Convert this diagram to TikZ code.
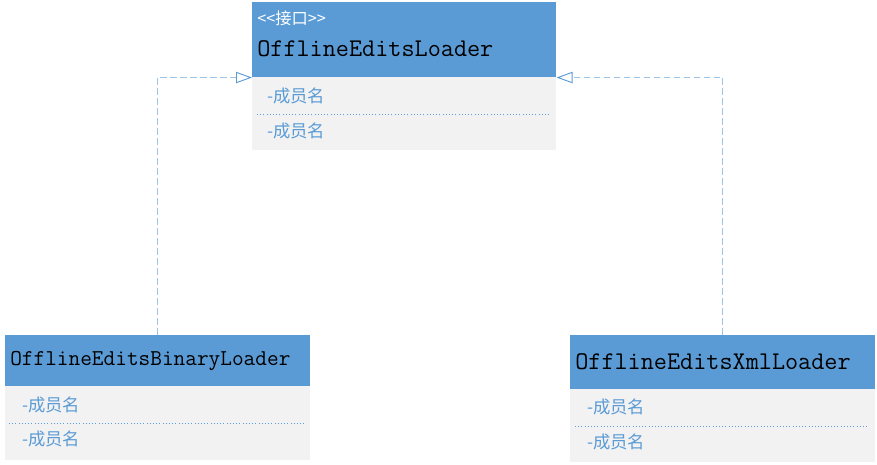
\documentclass[tikz,border=0pt]{standalone}
\usepackage{fontspec}
\setmonofont{Latin Modern Mono}
\newfontfamily\cjk{Noto Sans CJK SC}
\usetikzlibrary{arrows.meta}

\definecolor{umlhead}{RGB}{91,155,213}
\definecolor{umlbody}{RGB}{242,242,242}
\definecolor{umlline}{RGB}{157,195,230}

\tikzset{
  headbox/.style={draw=none,fill=umlhead,anchor=north west,inner sep=0pt},
  bodybox/.style={draw=none,fill=umlbody,anchor=north west,inner sep=0pt},
  member/.style={anchor=west,inner sep=0.75pt,text=umlhead,font=\cjk\fontsize{13}{15}\selectfont},
  classname/.style={anchor=west,inner sep=0.75pt,font=\ttfamily},
  sep/.style={umlhead,line width=0.4pt,dotted},
  realize/.style={umlline,line width=0.9pt,dash pattern=on 5pt off 2.5pt,
    -{Triangle[open,length=12pt,width=8.5pt,fill=white,umlhead,line width=0.7pt]}}
}

\begin{document}
\begin{tikzpicture}[x=0.75pt,y=0.75pt,yscale=-1,xscale=1]
\useasboundingbox (0,0) rectangle (877,464);

%Interface: OfflineEditsLoader
\node [headbox,minimum width=228pt,minimum height=56.25pt] (ifhead) at (252,2) {};
\node [bodybox,minimum width=228pt,minimum height=54.75pt] (ifbody) at (252,77) {};
\coordinate (ifsepl) at (257,114);
\coordinate (ifsepr) at (551,114);
\draw [sep] (ifsepl) -- (ifsepr);

%Class: OfflineEditsBinaryLoader
\node [headbox,minimum width=228.75pt,minimum height=38.25pt] (binhead) at (5,335) {};
\node [bodybox,minimum width=228.75pt,minimum height=55.5pt] (binbody) at (5,386) {};
\coordinate (binsepl) at (9,423);
\coordinate (binsepr) at (305,423);
\draw [sep] (binsepl) -- (binsepr);

%Class: OfflineEditsXmlLoader
\node [headbox,minimum width=228.75pt,minimum height=40.5pt] (xmlhead) at (570,335) {};
\node [bodybox,minimum width=228.75pt,minimum height=54.75pt] (xmlbody) at (570,389) {};
\coordinate (xmlsepl) at (575,426);
\coordinate (xmlsepr) at (869,426);
\draw [sep] (xmlsepl) -- (xmlsepr);

%Realization
\draw [realize] (binhead.north) |- (ifhead.south west);
\draw [realize] (xmlhead.north) |- (ifhead.south east);

% Text Node
\node [anchor=west,inner sep=0.75pt,text=white,font=\cjk\fontsize{12.2}{14}\selectfont] (ifstereo) at (256,18) {<<接口>>};
% Text Node
\node [classname,font=\ttfamily\fontsize{19.1}{21}\selectfont] (ifname) at (256,49) {OfflineEditsLoader};
% Text Node
\node [member] (ifmema) at (266,96) {-成员名};
% Text Node
\node [member] (ifmemb) at (266,131) {-成员名};

% Text Node
\node [classname,font=\ttfamily\fontsize{17}{19}\selectfont] (binname) at (9,361) {OfflineEditsBinaryLoader};
% Text Node
\node [member] (binmema) at (21,405) {-成员名};
% Text Node
\node [member] (binmemb) at (21,439) {-成员名};

% Text Node
\node [classname,font=\ttfamily\fontsize{19.1}{21}\selectfont] (xmlname) at (574,362) {OfflineEditsXmlLoader};
% Text Node
\node [member] (xmlmema) at (586,407) {-成员名};
% Text Node
\node [member] (xmlmemb) at (586,442) {-成员名};

\end{tikzpicture}
\end{document}
